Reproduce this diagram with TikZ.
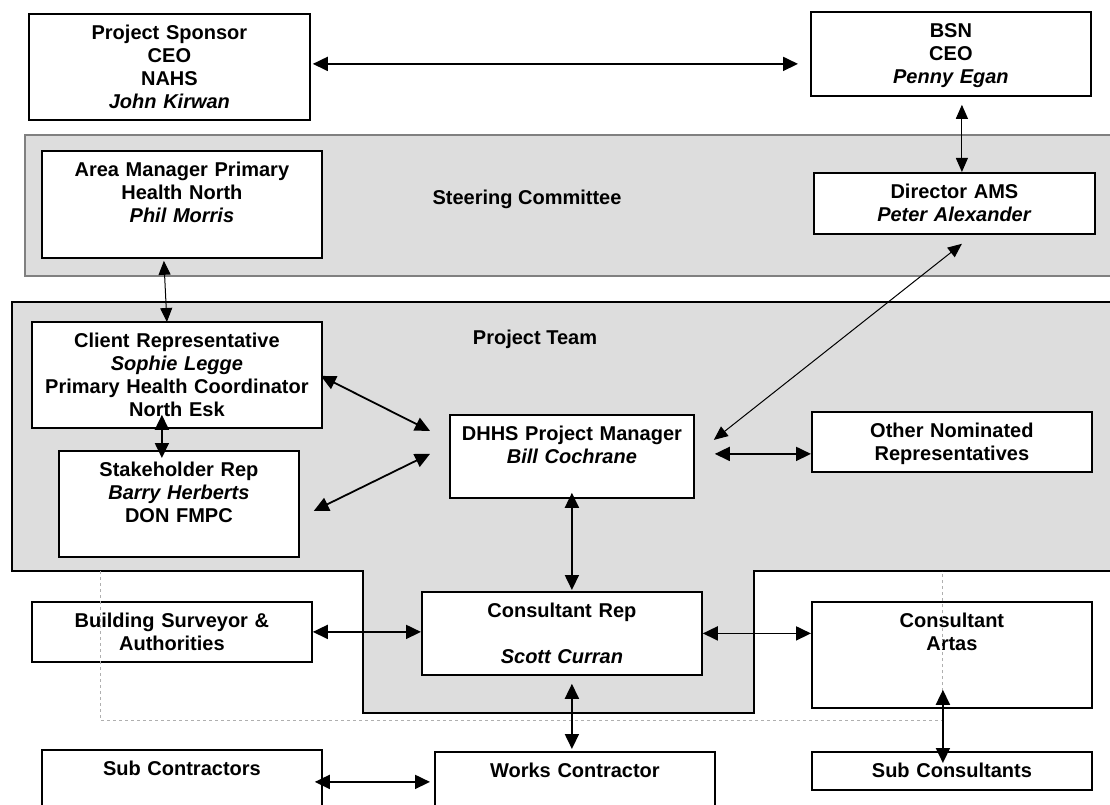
\documentclass[tikz,border=0pt]{standalone}
\usepackage{fontspec}
\setmainfont{Liberation Sans}
\usetikzlibrary{arrows.meta}
\definecolor{panelgray}{RGB}{221,221,221}
\definecolor{edgegray}{RGB}{128,128,128}
\definecolor{dashgray}{RGB}{175,175,175}

\begin{document}
\begin{tikzpicture}[x=1pt, y=-1pt,
    every node/.style={font=\fontsize{20}{23}\selectfont\bfseries},
    orgbox/.style={draw, line width=1.8pt, fill=white, anchor=north west,
        inner sep=0pt, align=center, text height=26pt},
    link/.style={line width=1.8pt,
        {Triangle[length=15pt,width=14pt]}-{Triangle[length=15pt,width=14pt]}},
    thinlink/.style={line width=1pt,
        {Triangle[length=14pt,width=12pt]}-{Triangle[length=14pt,width=12pt]}}]
    \useasboundingbox (0,0) rectangle (1110,805);
    % Steering Committee
    \draw[fill=panelgray, draw=edgegray, line width=1.2pt] (25,135) rectangle (1118,276);
    \node (steer) at (527,199) {Steering Committee};
    % Project Team
    \draw[fill=panelgray, line width=1.6pt] (12,302) -- (1118,302) -- (1118,571)
        -- (754,571) -- (754,713) -- (363,713) -- (363,571) -- (12,571) -- cycle;
    \node (team) at (535,339) {Project Team};

    \node[orgbox, text width=281pt, text depth=80pt] (sponsor) at (28,13)
        {Project Sponsor\\CEO\\NAHS\\\textit{John Kirwan}};
    \node[orgbox, text width=280pt, text depth=58pt] (bsn) at (810,11)
        {BSN\\CEO\\\textit{Penny Egan}};
    \node[orgbox, text width=280pt, text depth=81pt] (areamgr) at (41,150)
        {Area Manager Primary\\Health North\\\textit{Phil Morris}};
    \node[orgbox, text width=281pt, text depth=35pt] (director) at (813,172)
        {Director AMS\\\textit{Peter Alexander}};
    \node[orgbox, text width=290pt, text depth=80pt] (client) at (31,321)
        {Client Representative\\\textit{Sophie Legge}\\Primary Health Coordinator\\North Esk};
    \node[orgbox, text width=240pt, text depth=80pt] (stake) at (58,450)
        {Stakeholder Rep\\\textit{Barry Herberts}\\DON FMPC};
    \node[orgbox, text width=244pt, text depth=57pt] (dhhs) at (449,414)
        {DHHS Project Manager\\\textit{Bill Cochrane}};
    \node[orgbox, text width=280pt, text depth=34pt] (other) at (811,411)
        {Other Nominated\\Representatives};
    \node[orgbox, text width=280pt, text depth=34pt] (building) at (31,601)
        {Building Surveyor \&\\Authorities};
    \node[orgbox, text width=280pt, text depth=57pt] (conrep) at (421,591)
        {Consultant Rep\\[23pt]\textit{Scott Curran}};
    \node[orgbox, text width=280pt, text depth=80pt] (artas) at (811,601)
        {Consultant\\Artas};
    \node[orgbox, text width=280pt, text depth=44pt] (subcon) at (41,749)
        {Sub Contractors};
    \node[orgbox, text width=280pt, text depth=44pt] (works) at (434,751)
        {Works Contractor};
    \node[orgbox, text width=280pt, text depth=12pt] (subcons) at (811,751)
        {Sub Consultants};

    % dashed outline behind the consultants
    \draw[dashed, draw=dashgray, line width=0.8pt]
        (100,571) -- (100,720) -- (942,720) -- (942,571);

    \draw[link] ([xshift=2pt,yshift=3pt]sponsor.east)
        -- ([xshift=-12pt,yshift=-10pt]bsn.west);
    \draw[thinlink] ([xshift=11pt,yshift=-8pt]bsn.south)
        -- ([xshift=7.5pt]director.north);
    \draw[thinlink] ([xshift=-18pt,yshift=-2pt]areamgr.south)
        -- ([xshift=-10pt,yshift=-1pt]client.north);
    \draw[thinlink] ([xshift=7.5pt,yshift=-9pt]director.south)
        -- ([xshift=19pt,yshift=16.5pt]dhhs.east);
    \draw[link] ([xshift=-2pt,yshift=-1pt]client.east)
        -- ([xshift=-19pt,yshift=25.5pt]dhhs.west);
    \draw[link] ([xshift=14pt,yshift=-7pt]stake.east)
        -- ([xshift=-19pt,yshift=2.5pt]dhhs.west);
    \draw[link] ([xshift=-15pt,yshift=14pt]client.south)
        -- ([xshift=-17pt,yshift=-8pt]stake.north);
    \draw[link] ([xshift=20pt,yshift=2.5pt]dhhs.east)
        -- ([yshift=-12pt]other.west);
    \draw[link] ([yshift=6pt]dhhs.south)
        -- ([xshift=10pt,yshift=1pt]conrep.north);
    \draw[link] (building.east) -- (building.east -| conrep.west);
    \draw[link] (conrep.east) -- (conrep.east -| artas.west);
    \draw[link] ([xshift=10pt,yshift=-8pt]conrep.south)
        -- ([xshift=-3pt,yshift=2pt]works.north);
    \draw[link] ([xshift=-8pt,yshift=3pt]subcon.east)
        -- ([xshift=-4pt,yshift=5pt]works.west);
    \draw[link] ([xshift=-9pt,yshift=19pt]artas.south)
        -- ([xshift=-9pt,yshift=-12pt]subcons.north);
\end{tikzpicture}
\end{document}
